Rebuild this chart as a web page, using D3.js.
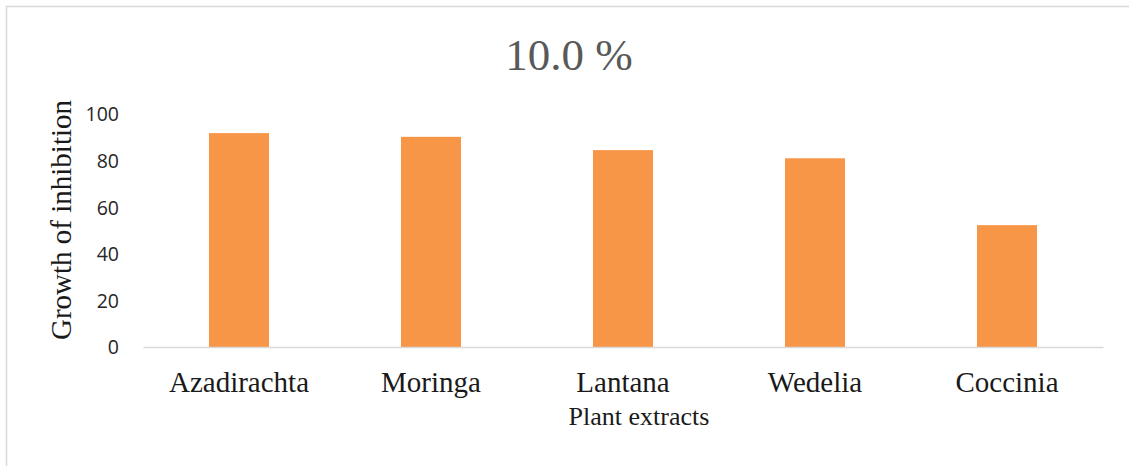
<!DOCTYPE html>
<html>
<head>
<meta charset="utf-8">
<script src="https://cdn.jsdelivr.net/npm/d3@7"></script>
<style>
html,body{margin:0;padding:0;background:#fff;}
svg{display:block;}
</style>
</head>
<body>
<svg id="chart" width="1129" height="466"></svg>
<script>
const categories = ["Azadirachta", "Moringa", "Lantana", "Wedelia", "Coccinia"];
const values = [91.8, 90.2, 84.5, 81.0, 52.3];
const yTicks = [0, 20, 40, 60, 80, 100];
const titleText = "10.0 %";
const xTitle = "Plant extracts";
const yTitle = "Growth of inhibition";

const svg = d3.select("#chart");
const W = 1129, H = 466;
const m = {left: 143, right: 1103, top: 114, bottom: 347};

svg.append("rect").attr("x", 6.5).attr("y", 6.5).attr("width", W + 10).attr("height", H + 10)
  .attr("fill", "#fff").attr("stroke", "#d9d9d9").attr("stroke-width", 1.5);

const x = d3.scaleBand().domain(categories).range([m.left, m.right])
  .paddingInner(0.6875).paddingOuter(0.34375);
const y = d3.scaleLinear().domain([0, 100]).range([m.bottom, m.top]);

// bars
svg.append("g").selectAll("rect").data(values).join("rect")
  .attr("x", (d, i) => x(categories[i]))
  .attr("y", d => y(d))
  .attr("width", x.bandwidth())
  .attr("height", d => y(0) - y(d))
  .attr("fill", "#f79646");

// y axis
const yAxis = d3.axisLeft(y).tickValues(yTicks).tickSize(0).tickPadding(0).tickFormat(d3.format("d"));
const gy = svg.append("g").attr("transform", `translate(119,0)`).call(yAxis);
gy.select(".domain").remove();
gy.selectAll("text").attr("font-family", "'Open Sans', sans-serif").attr("font-size", "19.5px")
  .attr("fill", "#262626").attr("dy", "0.35em");

// x axis
const xAxis = d3.axisBottom(x).tickSize(0).tickPadding(0);
const gx = svg.append("g").attr("transform", `translate(0,${m.bottom})`).call(xAxis);
gx.select(".domain").attr("stroke", "#d9d9d9").attr("stroke-width", 1.5);
gx.selectAll("text").attr("font-family", "'Liberation Serif', 'Times New Roman', serif")
  .attr("font-size", "29px").attr("fill", "#1a1a1a").attr("dy", null).attr("y", 45);

// title
svg.append("text").attr("x", 569).attr("y", 70).attr("text-anchor", "middle")
  .attr("font-family", "'Liberation Serif', 'Times New Roman', serif").attr("font-size", "45px")
  .attr("fill", "#595959").text(titleText);

// x title
svg.append("text").attr("x", 639).attr("y", 425).attr("text-anchor", "middle")
  .attr("font-family", "'Liberation Serif', 'Times New Roman', serif").attr("font-size", "26px")
  .attr("fill", "#1a1a1a").text(xTitle);

// y title
svg.append("text").attr("transform", "translate(71,220) rotate(-90)").attr("text-anchor", "middle")
  .attr("font-family", "'Liberation Serif', 'Times New Roman', serif").attr("font-size", "29px")
  .attr("fill", "#1a1a1a").text(yTitle);
</script>
</body>
</html>
